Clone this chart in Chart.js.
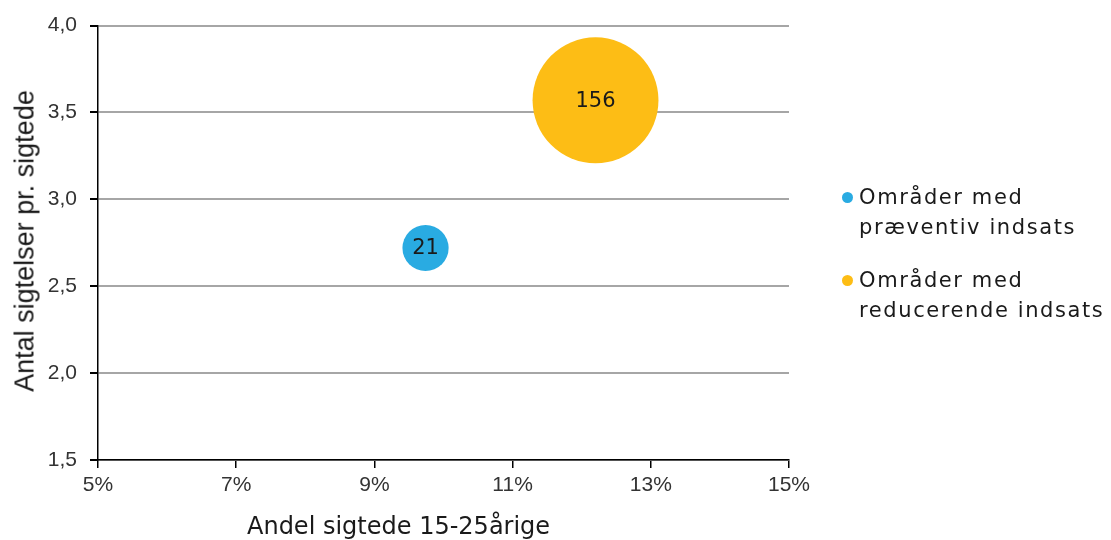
<!DOCTYPE html>
<html>
<head>
<meta charset="utf-8">
<script src="https://cdn.jsdelivr.net/npm/chart.js@4"></script>
<style>
  html, body { margin: 0; padding: 0; background: #fff; }
  #wrap { position: relative; width: 1111px; height: 540px; overflow: hidden; }
  canvas { position: absolute; left: 0; top: 0; }
  .ytitle { position: absolute; left: 25px; top: 241px; transform: translate(-50%, -50%) rotate(-90deg);
            white-space: nowrap; font-family: "Liberation Sans", Arial, sans-serif; font-size: 27px; color: #1a1a1a; }
  .xtitle { position: absolute; left: 247px; top: 511px; white-space: nowrap; line-height: 30px;
            font-family: "DejaVu Sans", sans-serif; font-size: 24px; color: #1a1a1a; }
  #legend { position: absolute; left: 840px; top: 182px; font-family: "DejaVu Sans", sans-serif; font-size: 21px;
            letter-spacing: 1.6px; color: #1a1a1a; line-height: 30px; }
  .item { position: relative; padding-left: 19px; margin-bottom: 23px; }
  .dot { position: absolute; left: 2px; top: 10px; width: 11px; height: 11px; border-radius: 50%; }
</style>
</head>
<body>
<div id="wrap">
  <canvas id="c" width="1111" height="540"></canvas>
  <div class="ytitle">Antal sigtelser pr. sigtede</div>
  <div class="xtitle">Andel sigtede 15-25årige</div>
  <div id="legend"></div>
</div>
<script>
const seriesNames = [["Områder med", "præventiv indsats"], ["Områder med", "reducerende indsats"]];
const seriesColors = ["#29abe2", "#fdbd15"];
const xValues = [9.74, 12.2];      // Andel sigtede 15-25årige (%)
const yValues = [2.72, 3.57];      // Antal sigtelser pr. sigtede
const counts = [21, 156];          // bubble size / label
const xTicks = [5, 7, 9, 11, 13, 15];
const yTicks = [1.5, 2.0, 2.5, 3.0, 3.5, 4.0];

const radiusPerSqrt = 5.04;

const datasets = seriesNames.map((name, i) => ({
  label: name.join(" "),
  data: [{ x: xValues[i], y: yValues[i], v: counts[i] }],
  backgroundColor: seriesColors[i],
  borderWidth: 0,
  hoverBorderWidth: 0,
  radius: ctx => radiusPerSqrt * Math.sqrt(ctx.raw ? ctx.raw.v : 0)
}));

const bubbleLabels = {
  id: 'bubbleLabels',
  afterDatasetsDraw(chart) {
    const ctx = chart.ctx;
    ctx.save();
    ctx.font = '21px "DejaVu Sans", sans-serif';
    ctx.fillStyle = '#1a1a1a';
    ctx.textAlign = 'center';
    ctx.textBaseline = 'middle';
    chart.data.datasets.forEach((ds, i) => {
      const meta = chart.getDatasetMeta(i);
      meta.data.forEach((el, j) => {
        ctx.fillText(String(ds.data[j].v), el.x, el.y + 1);
      });
    });
    ctx.restore();
  }
};

new Chart(document.getElementById('c'), {
  type: 'bubble',
  data: { datasets },
  plugins: [bubbleLabels],
  options: {
    responsive: false,
    animation: false,
    events: [],
    clip: false,
    layout: { autoPadding: false, padding: { top: 23, right: 322, left: 0, bottom: 0 } },
    plugins: { legend: { display: false }, tooltip: { enabled: false } },
    scales: {
      x: {
        type: 'linear',
        min: 5, max: 15,
        afterBuildTicks: s => { s.ticks = xTicks.map(v => ({ value: v })); },
        afterFit: s => { s.height = 80; },
        ticks: {
          callback: v => v + '%',
          font: { family: '"Liberation Sans", Arial, sans-serif', size: 21 },
          color: '#333',
          padding: 5,
          maxRotation: 0
        },
        grid: { drawOnChartArea: false, drawTicks: true, tickLength: 8, tickColor: '#000', lineWidth: 1.5 },
        border: { display: true, color: '#000', width: 1.5 }
      },
      y: {
        type: 'linear',
        min: 1.5, max: 4.0,
        afterBuildTicks: s => { s.ticks = yTicks.map(v => ({ value: v })); },
        afterFit: s => { s.width = 98; },
        ticks: {
          callback: v => v.toFixed(1).replace('.', ','),
          font: { family: '"Liberation Sans", Arial, sans-serif', size: 21 },
          color: '#333',
          padding: 13
        },
        grid: { color: '#a6a6a6', lineWidth: 2, drawTicks: true, tickLength: 8, tickColor: '#000' },
        border: { display: true, color: '#000', width: 1.5 }
      }
    }
  }
});

const legend = document.getElementById('legend');
seriesNames.forEach((name, i) => {
  const d = document.createElement('div');
  d.className = 'item';
  d.innerHTML = '<span class="dot" style="background:' + seriesColors[i] + '"></span>' + name.join('<br>');
  legend.appendChild(d);
});
</script>
</body>
</html>
